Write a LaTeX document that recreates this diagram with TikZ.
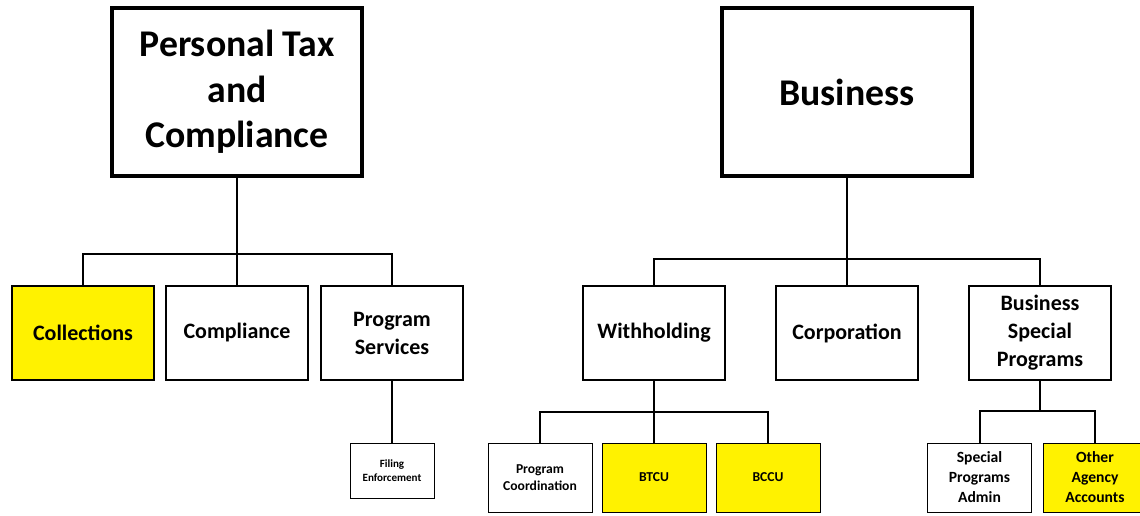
\documentclass[tikz,border=0pt]{standalone}
\usepackage{fontspec}
\setmainfont{Carlito}
\begin{document}
\begin{tikzpicture}[x=0.75pt,y=-0.75pt,
  box/.style={draw=black,fill=white,align=center,inner sep=0pt,font=\bfseries},
  top/.style={box,line width=2.4pt,minimum width=187.5pt,minimum height=126pt,font=\bfseries\fontsize{28.3}{34}\selectfont},
  mid/.style={box,line width=1.5pt,minimum width=106.5pt,minimum height=70.5pt,font=\bfseries\fontsize{16.5}{21}\selectfont},
  low/.style={box,line width=0.6pt,minimum width=78pt,minimum height=51.75pt,font=\bfseries\fontsize{10.2}{12.75}\selectfont},
  hi/.style={fill=yellow},
  conn/.style={line width=1.5pt}]
\useasboundingbox (0,0) rectangle (1140,516);
% top level
\node[top] (ptc) at (237,92) {Personal Tax\\and\\Compliance};
\node[top] (bus) at (847,92) {Business};
% level 2 left
\node[mid,hi] (col) at (83,333) {Collections};
\node[mid] (cmp) at (237,333) {Compliance};
\node[mid] (prs) at (392,333) {Program\\Services};
% level 2 right
\node[mid] (wth) at (654,333) {Withholding};
\node[mid] (cor) at (847,333) {Corporation};
\node[mid] (bsp) at (1040,333) {Business\\Special\\Programs};
% level 3
\node[low,minimum width=63pt,minimum height=41.25pt,font=\bfseries\fontsize{8.3}{10.8}\selectfont] (fe) at (392,470.5) {Filing\\Enforcement};
\node[low] (pc) at (540,477.5) {Program\\Coordination};
\node[low,hi] (btcu) at (654,477.5) {BTCU};
\node[low,hi] (bccu) at (768,477.5) {BCCU};
\node[low,font=\bfseries\fontsize{11.7}{15}\selectfont] (spa) at (979.5,477.5) {Special\\Programs\\Admin};
\node[low,hi,font=\bfseries\fontsize{11.7}{15}\selectfont] (oaa) at (1095,477.5) {Other\\Agency\\Accounts};
% connectors
\coordinate (j1) at (237,254);
\coordinate (j2) at (847,259);
\coordinate (j3) at (654,412);
\coordinate (j4) at (1040,411);
\draw[conn] (ptc.south) -- (j1);
\draw[conn] (col.north) |- (j1) -| (prs.north);
\draw[conn] (j1) -- (cmp.north);
\draw[conn] (bus.south) -- (j2);
\draw[conn] (wth.north) |- (j2) -| (bsp.north);
\draw[conn] (j2) -- (cor.north);
\draw[conn] (prs.south) -- (fe.north);
\draw[conn] (wth.south) -- (j3);
\draw[conn] (pc.north) |- (j3) -| (bccu.north);
\draw[conn] (j3) -- (btcu.north);
\draw[conn] (bsp.south) -- (j4);
\draw[conn] (spa.north) |- (j4) -| (oaa.north);
\end{tikzpicture}
\end{document}
